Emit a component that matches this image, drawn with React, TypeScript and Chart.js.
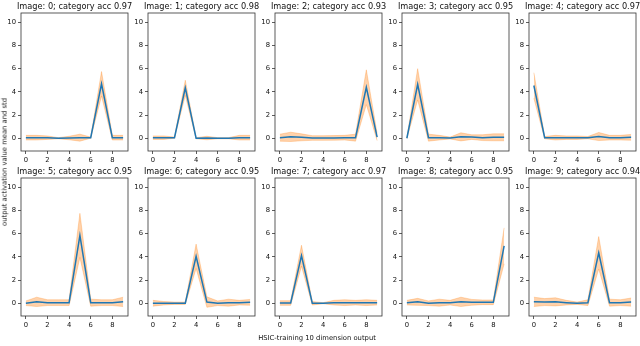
import React, { useEffect, useRef } from "react";
import { Chart, registerables } from "chart.js";

Chart.register(...registerables);

const dims = [0, 1, 2, 3, 4, 5, 6, 7, 8, 9];
const xTicks = [0, 2, 4, 6, 8];
const yTicks = [0, 2, 4, 6, 8, 10];

const titles = [
  "Image: 0; category acc 0.97",
  "Image: 1; category acc 0.98",
  "Image: 2; category acc 0.93",
  "Image: 3; category acc 0.95",
  "Image: 4; category acc 0.97",
  "Image: 5; category acc 0.95",
  "Image: 6; category acc 0.95",
  "Image: 7; category acc 0.97",
  "Image: 8; category acc 0.95",
  "Image: 9; category acc 0.94",
];

const mean0 = [0.05, 0.05, 0.05, 0.0, 0.02, 0.05, 0.05, 4.7, 0.05, 0.05];
const std0 = [0.2, 0.2, 0.15, 0.05, 0.15, 0.3, 0.05, 1.05, 0.2, 0.2];
const mean1 = [0.05, 0.05, 0.05, 4.35, 0.0, 0.02, 0.0, 0.0, 0.05, 0.05];
const std1 = [0.15, 0.15, 0.05, 0.65, 0.05, 0.15, 0.05, 0.05, 0.2, 0.2];
const mean2 = [0.05, 0.12, 0.08, 0.02, 0.02, 0.03, 0.05, 0.05, 4.4, 0.1];
const std2 = [0.3, 0.4, 0.3, 0.2, 0.2, 0.2, 0.2, 0.3, 1.5, 0.3];
const mean3 = [0.0, 4.65, 0.05, 0.05, 0.02, 0.12, 0.1, 0.05, 0.08, 0.08];
const std3 = [0.02, 1.35, 0.3, 0.2, 0.08, 0.35, 0.2, 0.25, 0.3, 0.3];
const mean4 = [4.55, 0.05, 0.05, 0.05, 0.05, 0.05, 0.15, 0.05, 0.05, 0.08];
const std4 = [1.1, 0.1, 0.2, 0.15, 0.15, 0.1, 0.35, 0.2, 0.2, 0.25];
const mean5 = [0.0, 0.12, 0.05, 0.05, 0.05, 5.85, 0.05, 0.05, 0.05, 0.12];
const std5 = [0.2, 0.4, 0.25, 0.25, 0.25, 1.9, 0.3, 0.25, 0.25, 0.4];
const mean6 = [0.0, 0.0, 0.0, 0.0, 4.05, 0.1, 0.0, 0.05, 0.05, 0.08];
const std6 = [0.25, 0.15, 0.1, 0.1, 1.05, 0.45, 0.2, 0.3, 0.2, 0.25];
const mean7 = [0.02, 0.02, 4.1, 0.0, 0.0, 0.05, 0.05, 0.05, 0.05, 0.05];
const std7 = [0.2, 0.2, 0.9, 0.15, 0.05, 0.2, 0.25, 0.2, 0.25, 0.2];
const mean8 = [0.05, 0.12, 0.0, 0.05, 0.05, 0.12, 0.08, 0.08, 0.08, 4.95];
const std8 = [0.2, 0.3, 0.2, 0.3, 0.2, 0.4, 0.25, 0.2, 0.2, 1.55];
const mean9 = [0.12, 0.1, 0.12, 0.05, 0.0, 0.05, 4.35, 0.05, 0.05, 0.1];
const std9 = [0.4, 0.3, 0.35, 0.2, 0.1, 0.25, 1.4, 0.3, 0.25, 0.35];

const means = [mean0, mean1, mean2, mean3, mean4, mean5, mean6, mean7, mean8, mean9];
const stds = [std0, std1, std2, std3, std4, std5, std6, std7, std8, std9];

const FONT = "'DejaVu Sans', sans-serif";
const BAND = "rgba(255,127,14,0.35)";

const PAD_L = 26;
const PAD_T = 14;
const PAD_R = 10;
const PAD_B = 16;
const BOX_W = 107;
const BOX_H = 138;

const boxPlugin = {
  id: "boxAndTitle",
  afterDraw(chart: any) {
    const { ctx, chartArea } = chart;
    ctx.save();
    ctx.strokeStyle = "#333";
    ctx.lineWidth = 0.8;
    ctx.strokeRect(chartArea.left, chartArea.top, chartArea.right - chartArea.left, chartArea.bottom - chartArea.top);
    ctx.fillStyle = "#111";
    ctx.font = `8.2px ${FONT}`;
    ctx.textAlign = "center";
    ctx.textBaseline = "alphabetic";
    ctx.fillText(chart.options.plugins.panelTitle.text, (chartArea.left + chartArea.right) / 2, chartArea.top - 4);
    ctx.restore();
  },
};

function Panel({ idx, left, top }: { idx: number; left: number; top: number }) {
  const ref = useRef<HTMLCanvasElement | null>(null);
  useEffect(() => {
    const m = means[idx];
    const s = stds[idx];
    const meanPts = dims.map((x, i) => ({ x, y: m[i] }));
    const upPts = dims.map((x, i) => ({ x, y: m[i] + s[i] }));
    const loPts = dims.map((x, i) => ({ x, y: m[i] - s[i] }));
    const tickFont = { family: FONT, size: 6.8 };
    const chart = new Chart(ref.current as HTMLCanvasElement, {
      type: "line",
      data: {
        datasets: [
          { data: meanPts, borderColor: "#1f77b4", borderWidth: 1.5, pointRadius: 0, fill: false, tension: 0 },
          { data: upPts, borderColor: BAND, borderWidth: 0.8, backgroundColor: BAND, pointRadius: 0, fill: "+1", tension: 0 },
          { data: loPts, borderColor: BAND, borderWidth: 0.8, pointRadius: 0, fill: false, tension: 0 },
        ],
      },
      options: {
        responsive: false,
        animation: false,
        devicePixelRatio: 1,
        layout: { padding: { top: PAD_T, right: PAD_R, left: 0, bottom: 0 } },
        plugins: {
          legend: { display: false },
          tooltip: { enabled: false },
          title: { display: false },
          panelTitle: { text: titles[idx] },
        } as any,
        scales: {
          x: {
            type: "linear",
            min: -0.45,
            max: 9.45,
            afterBuildTicks: (sc: any) => {
              sc.ticks = xTicks.map((v) => ({ value: v }));
            },
            afterFit: (sc: any) => {
              sc.height = PAD_B;
            },
            grid: { display: true, drawOnChartArea: false, drawTicks: true, tickLength: 3, color: "#333", lineWidth: 0.8 },
            border: { display: false },
            ticks: { padding: 2, font: tickFont, color: "#111", maxRotation: 0, autoSkip: false, callback: (v: any) => String(v) },
          },
          y: {
            type: "linear",
            min: -1.1,
            max: 10.8,
            afterBuildTicks: (sc: any) => {
              sc.ticks = yTicks.map((v) => ({ value: v }));
            },
            afterFit: (sc: any) => {
              sc.width = PAD_L;
            },
            grid: { display: true, drawOnChartArea: false, drawTicks: true, tickLength: 3, color: "#333", lineWidth: 0.8 },
            border: { display: false },
            ticks: { padding: 2, font: tickFont, color: "#111", autoSkip: false, callback: (v: any) => String(v) },
          },
        },
      } as any,
      plugins: [boxPlugin],
    });
    return () => chart.destroy();
  }, [idx]);
  const w = PAD_L + BOX_W + PAD_R;
  const h = PAD_T + BOX_H + PAD_B;
  return (
    <canvas
      ref={ref}
      width={w}
      height={h}
      style={{ position: "absolute", left: left - PAD_L, top: top - PAD_T, width: w, height: h }}
    />
  );
}

const boxLefts = [21, 148, 275, 402, 529];
const boxTops = [13, 178];

export default function App() {
  return (
    <div
      style={{
        position: "fixed",
        left: 0,
        top: 0,
        width: 640,
        height: 346,
        background: "#fff",
        overflow: "hidden",
        fontFamily: FONT,
      }}
    >
      {dims.map((i) => (
        <Panel key={i} idx={i} left={boxLefts[i % 5]} top={boxTops[Math.floor(i / 5)]} />
      ))}
      <div
        style={{
          position: "absolute",
          left: 5,
          top: 162,
          transform: "translate(-50%, -50%) rotate(-90deg)",
          whiteSpace: "nowrap",
          fontSize: 6.8,
          color: "#111",
          lineHeight: 1,
        }}
      >
        output activation value mean and std
      </div>
      <div
        style={{
          position: "absolute",
          left: 317,
          top: 338,
          transform: "translate(-50%, -50%)",
          whiteSpace: "nowrap",
          fontSize: 6.8,
          color: "#111",
          lineHeight: 1,
        }}
      >
        HSIC-training 10 dimension output
      </div>
    </div>
  );
}
